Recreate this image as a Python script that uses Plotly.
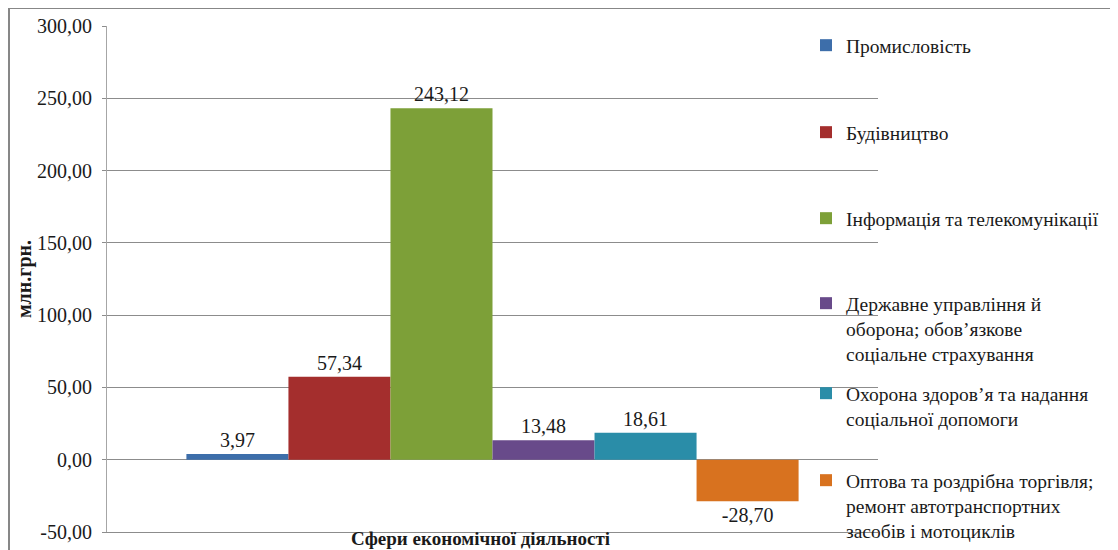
import plotly.graph_objects as go

categories = ["Сфери економічної діяльності"]
series_names = [
    "Промисловість",
    "Будівництво",
    "Інформація та телекомунікації",
    "Державне управління й<br>оборона; обов’язкове<br>соціальне страхування",
    "Охорона здоров’я та надання<br>соціальної допомоги",
    "Оптова та роздрібна торгівля;<br>ремонт автотранспортних<br>засобів і мотоциклів",
]
series_values = [3.97, 57.34, 243.12, 13.48, 18.61, -28.70]
series_colors = ["#3D6EAA", "#A42E2D", "#7DA038", "#684A8A", "#2A8DA8", "#D8721F"]
y_ticks = [-50, 0, 50, 100, 150, 200, 250, 300]

# page has an 8px body margin, so the figure is drawn 8px right/down
OFF = 8
W, H = 1118 - OFF, 550 - OFF
PX0, PX1, PY0, PY1 = 107 - OFF, 878 - OFF, 26 - OFF, 532 - OFF
L, R, T, B = PX0, W - PX1, PY0, H - PY1
PW, PH = PX1 - PX0, PY1 - PY0


def px_x(p):
    # p in page pixels
    return (p - OFF - PX0) / PW


def px_y(p):
    return (PY1 - (p - OFF)) / PH


def fmt(v):
    return f"{v:.2f}".replace(".", ",")


FONT = "Liberation Serif"

fig = go.Figure()
legend_tops = [26, 113, 199, 284, 374, 461]
for i, (name, val, col) in enumerate(zip(series_names, series_values, series_colors)):
    lg = "legend" if i == 0 else f"legend{i+1}"
    fig.add_trace(go.Bar(
        x=categories, y=[val], name=name,
        marker=dict(color=col, line=dict(width=0)),
        text=[fmt(val)], textposition="outside",
        textfont=dict(family=FONT, size=20, color="#1a1a1a"),
        cliponaxis=False,
        legend=lg,
    ))

legend_common = dict(
    font=dict(family=FONT, size=19.5, color="#1a1a1a"),
    bgcolor="rgba(255,255,255,0)",
    borderwidth=0,
    xanchor="left", yanchor="top",
    valign="top",
    itemclick=False, itemdoubleclick=False,
)
layout_legends = {}
for i, top in enumerate(legend_tops):
    key = "legend" if i == 0 else f"legend{i+1}"
    layout_legends[key] = dict(x=px_x(806), y=px_y(top), **legend_common)

fig.update_layout(
    width=W, height=H,
    margin=dict(l=L, r=R, t=T, b=B, autoexpand=False),
    paper_bgcolor="white", plot_bgcolor="white",
    barmode="group", bargap=0.206, bargroupgap=0,
    showlegend=True,
    font=dict(family=FONT, color="#1a1a1a"),
    xaxis=dict(
        showticklabels=False, ticks="", showgrid=False,
        showline=True, linecolor="#8c8c8c", linewidth=1,
        zeroline=False, fixedrange=True,
    ),
    yaxis=dict(
        range=[-50, 300], tickvals=y_ticks,
        ticktext=[fmt(v) for v in y_ticks],
        ticks="outside", ticklen=4, tickcolor="#8c8c8c",
        ticklabelstandoff=6,
        tickfont=dict(family=FONT, size=20, color="#1a1a1a"),
        showgrid=True, gridcolor="#8c8c8c", gridwidth=1,
        showline=True, linecolor="#a6a6a6", linewidth=1,
        zeroline=False, fixedrange=True,
        title=dict(text="<b>млн.грн.</b>", font=dict(family=FONT, size=20, color="#1a1a1a"), standoff=0),
    ),
    annotations=[dict(
        text="<b>Сфери економічної діяльності</b>",
        xref="paper", yref="paper", x=px_x(480), y=px_y(538),
        xanchor="center", yanchor="middle", showarrow=False,
        font=dict(family=FONT, size=19, color="#1a1a1a"),
    )],
    shapes=[dict(
        type="rect", xref="paper", yref="paper",
        x0=px_x(9), x1=px_x(1140), y0=px_y(8), y1=px_y(580),
        line=dict(color="#878787", width=2), fillcolor="rgba(0,0,0,0)",
        layer="below",
    )],
    **layout_legends,
)

fig.write_html("out.html")
